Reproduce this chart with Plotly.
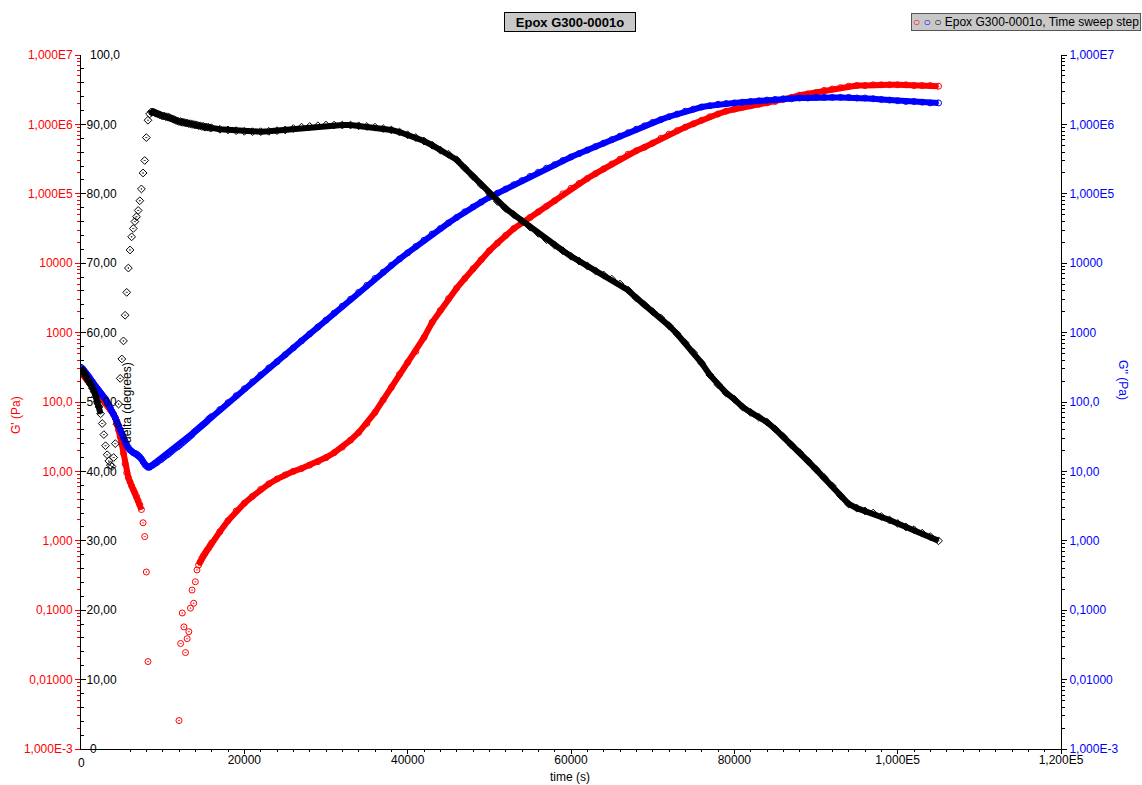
import plotly.graph_objects as go

# ---------------- data ----------------
time_s = [
    0, 200, 400, 600, 800, 1000, 1200, 1400, 1600, 1800,
    2000, 2200, 2400, 2600, 2800, 3000, 3200, 3400, 3600, 3800,
    4000, 4200, 4400, 4600, 4800, 5000, 5200, 5400, 5600, 5800,
    6000, 6200, 6400, 6600, 6800, 7000, 7200, 7400, 7600, 7800,
    8000, 8200, 8400, 8600, 8800, 9000, 9200, 9400, 9600, 9800,
    10000, 10200, 10400, 10600, 10800, 11000, 11200, 11400, 11600, 11800,
    12000, 12200, 12400, 12600, 12800, 13000, 13200, 13400, 13600, 13800,
    14000, 14200, 14400, 14600, 14800, 15000, 15200, 15400, 15600, 15800,
    16000,
    17000, 18000, 19000, 20000, 21000, 22000, 23000, 24000, 25000, 26000,
    27000, 28000, 29000, 30000, 31000, 32000, 33000, 34000, 35000, 36000,
    37000, 38000, 39000, 40000, 41000, 42000, 43000, 44000, 45000, 46000,
    47000, 48000, 49000, 50000, 51000, 52000, 53000, 54000, 55000, 56000,
    57000, 58000, 59000, 60000, 61000, 62000, 63000, 64000, 65000, 66000,
    67000, 68000, 69000, 70000, 71000, 72000, 73000, 74000, 75000, 76000,
    77000, 78000, 79000, 80000, 81000, 82000, 83000, 84000, 85000, 86000,
    87000, 88000, 89000, 90000, 91000, 92000, 93000, 94000, 95000, 96000,
    97000, 98000, 99000, 100000, 101000, 102000, 103000, 104000, 105000,
]

g_storage_pa = [  # G' (red, left log axis)
    2.69e2, 2.51e2, 2.34e2, 2.19e2, 2.04e2, 1.91e2, 1.78e2, 1.66e2, 1.55e2, 1.45e2,
    1.35e2, 1.29e2, 1.23e2, 1.15e2, 1.07e2, 1.00e2, 9.33e1, 8.51e1, 7.76e1, 7.24e1,
    6.61e1, 5.89e1, 5.01e1, 3.98e1, 3.16e1, 2.45e1, 1.82e1, 1.29e1, 9.55e0, 8.13e0,
    7.08e0, 6.17e0, 5.50e0, 4.90e0, 4.37e0, 3.80e0, 3.31e0, 2.82e0, 1.82e0, 1.15e0,
    3.55e-1, 1.82e-2, None, None, None, None, None, None, None, None,
    None, None, None, None, None, None, None, None, None, None,
    2.57e-3, 3.31e-2, 9.12e-2, 5.75e-2, 2.45e-2, 3.89e-2, 4.90e-2, 1.07e-1, 1.95e-1, 1.26e-1,
    2.57e-1, 3.80e-1, 4.47e-1, 5.01e-1, 5.62e-1, 6.17e-1, 6.61e-1, 7.24e-1, 7.76e-1, 8.51e-1,
    9.33e-1,
    1.35e0, 1.95e0, 2.69e0, 3.47e0, 4.37e0, 5.50e0, 6.61e0, 7.76e0, 8.91e0, 1.00e1,
    1.10e1, 1.23e1, 1.38e1, 1.58e1, 1.86e1, 2.24e1, 2.82e1, 3.63e1, 4.90e1, 7.08e1,
    1.07e2, 1.62e2, 2.51e2, 3.72e2, 5.37e2, 8.51e2, 1.41e3, 2.09e3, 3.09e3, 4.37e3,
    6.03e3, 8.32e3, 1.12e4, 1.51e4, 1.95e4, 2.51e4, 3.16e4, 3.80e4, 4.57e4, 5.50e4,
    6.61e4, 7.94e4, 1.00e5, 1.20e5, 1.41e5, 1.66e5, 1.95e5, 2.29e5, 2.69e5, 3.16e5,
    3.72e5, 4.17e5, 4.68e5, 5.37e5, 6.31e5, 7.24e5, 8.13e5, 9.12e5, 1.02e6, 1.15e6,
    1.29e6, 1.41e6, 1.55e6, 1.66e6, 1.78e6, 1.86e6, 1.95e6, 2.04e6, 2.14e6, 2.29e6,
    2.45e6, 2.63e6, 2.75e6, 2.88e6, 3.09e6, 3.24e6, 3.39e6, 3.55e6, 3.63e6, 3.63e6,
    3.72e6, 3.72e6, 3.72e6, 3.72e6, 3.72e6, 3.63e6, 3.63e6, 3.63e6, 3.55e6,
]

g_loss_pa = [  # G'' (blue, right log axis)
    3.16e2, 3.02e2, 2.82e2, 2.63e2, 2.45e2, 2.29e2, 2.09e2, 1.95e2, 1.78e2, 1.66e2,
    1.55e2, 1.45e2, 1.35e2, 1.26e2, 1.17e2, 1.10e2, 1.00e2, 9.12e1, 8.13e1, 7.24e1,
    6.61e1, 5.89e1, 5.25e1, 4.57e1, 3.98e1, 3.47e1, 3.02e1, 2.63e1, 2.34e1, 2.19e1,
    2.04e1, 1.95e1, 1.86e1, 1.82e1, 1.78e1, 1.70e1, 1.62e1, 1.51e1, 1.38e1, 1.26e1,
    1.20e1, 1.15e1, 1.15e1, 1.20e1, 1.23e1, 1.29e1, 1.32e1, 1.38e1, 1.45e1, 1.48e1,
    1.55e1, 1.62e1, 1.70e1, 1.74e1, 1.82e1, 1.91e1, 2.00e1, 2.09e1, 2.19e1, 2.24e1,
    2.34e1, 2.45e1, 2.57e1, 2.69e1, 2.82e1, 2.95e1, 3.09e1, 3.24e1, 3.39e1, 3.63e1,
    3.80e1, 3.98e1, 4.17e1, 4.37e1, 4.57e1, 4.79e1, 5.01e1, 5.25e1, 5.62e1, 5.89e1,
    6.17e1,
    7.76e1, 9.77e1, 1.23e2, 1.55e2, 1.95e2, 2.45e2, 3.09e2, 3.80e2, 4.79e2, 6.03e2,
    7.59e2, 9.55e2, 1.20e3, 1.51e3, 1.91e3, 2.40e3, 3.02e3, 3.80e3, 4.79e3, 6.03e3,
    7.41e3, 9.33e3, 1.15e4, 1.41e4, 1.74e4, 2.14e4, 2.63e4, 3.16e4, 3.80e4, 4.57e4,
    5.50e4, 6.46e4, 7.59e4, 8.91e4, 1.02e5, 1.17e5, 1.35e5, 1.55e5, 1.78e5, 2.04e5,
    2.34e5, 2.63e5, 3.02e5, 3.39e5, 3.80e5, 4.27e5, 4.79e5, 5.37e5, 6.03e5, 6.76e5,
    7.59e5, 8.51e5, 9.55e5, 1.07e6, 1.17e6, 1.29e6, 1.41e6, 1.55e6, 1.66e6, 1.78e6,
    1.86e6, 1.95e6, 2.00e6, 2.04e6, 2.09e6, 2.14e6, 2.19e6, 2.24e6, 2.29e6, 2.34e6,
    2.34e6, 2.40e6, 2.40e6, 2.45e6, 2.45e6, 2.45e6, 2.45e6, 2.45e6, 2.40e6, 2.40e6,
    2.34e6, 2.29e6, 2.24e6, 2.19e6, 2.14e6, 2.14e6, 2.09e6, 2.04e6, 2.04e6,
]

delta_deg = [  # delta (black, left linear axis)
    54.8, 54.5, 54.1, 53.7, 53.3, 52.9, 52.5, 52.0, 51.5, 50.8,
    50.0, 49.3, 48.3, 46.9, 45.3, 43.7, 42.4, 41.5, 40.9, 40.7,
    42.0, 44.0, 46.8, 49.7, 53.4, 56.2, 58.8, 62.5, 65.8, 69.3,
    71.9, 73.8, 75.0, 76.0, 76.7, 77.6, 79.0, 80.7, 83.0, 84.8,
    88.1, 90.6, 91.5, 91.8, 91.8, 91.7, 91.6, 91.5, 91.4, 91.3,
    91.2, 91.2, 91.1, 91.1, 91.0, 90.9, 90.8, 90.7, 90.6, 90.5,
    90.4, 90.4, 90.3, 90.3, 90.2, 90.2, 90.1, 90.1, 90.0, 90.0,
    89.9, 89.9, 89.8, 89.8, 89.7, 89.7, 89.6, 89.6, 89.6, 89.5,
    89.5,
    89.3, 89.2, 89.1, 89.0, 88.95, 88.95, 89.0, 89.1, 89.2, 89.4,
    89.6, 89.7, 89.8, 89.9, 89.9, 89.9, 89.9, 89.8, 89.7, 89.6,
    89.4, 89.2, 88.9, 88.5, 88.1, 87.6, 87.0, 86.3, 85.7, 84.9,
    83.7, 82.5, 81.3, 80.1, 78.9, 77.9, 77.0, 76.1, 75.2, 74.3,
    73.4, 72.6, 71.8, 71.0, 70.3, 69.6, 68.9, 68.3, 67.7, 67.0,
    66.1, 65.0, 64.0, 63.0, 62.1, 61.0, 59.8, 58.5, 57.1, 55.6,
    53.9, 52.5, 51.3, 50.4, 49.3, 48.5, 47.8, 47.1, 46.1, 45.0,
    43.8, 42.7, 41.5, 40.3, 39.1, 37.9, 36.5, 35.3, 34.7, 34.3,
    34.0, 33.5, 33.0, 32.5, 32.0, 31.6, 31.1, 30.6, 30.0,
]

x_tickvals = [0, 20000, 40000, 60000, 80000, 100000, 120000]
x_ticktext = ["0", "20000", "40000", "60000", "80000", "1,000E5", "1,200E5"]
g_tickvals = [1e-3, 1e-2, 1e-1, 1, 10, 100, 1e3, 1e4, 1e5, 1e6, 1e7]
g_ticktext = ["1,000E-3", "0,01000", "0,1000", "1,000", "10,00", "100,0",
              "1000", "10000", "1,000E5", "1,000E6", "1,000E7"]
d_tickvals = [0, 10, 20, 30, 40, 50, 60, 70, 80, 90, 100]
d_ticktext = ["0", "10,00", "20,00", "30,00", "40,00", "50,00",
              "60,00", "70,00", "80,00", "90,00", "100,0"]

# ---------------- styling ----------------
FONT = "Liberation Sans, Arial, sans-serif"
RED, BLUE, BLACK = "#ff0000", "#0000ff", "#000000"
log_minor = [m * 10.0 ** e for e in range(-3, 7) for m in range(2, 10)]

# dense stretches are drawn as a thick band (markers overlap in the original)
def band(values, keep):
    return [v if k else None for v, k in zip(values, keep)]

red_keep = [t <= 7400 or t >= 14400 for t in time_s]
blue_keep = [True for t in time_s]
black_keep = [t <= 2400 or t >= 8400 for t in time_s]

fig = go.Figure()
fig.add_trace(go.Scatter(x=time_s, y=band(g_storage_pa, red_keep), mode="lines",
                         line=dict(color=RED, width=6), yaxis="y", hoverinfo="skip",
                         showlegend=False))
fig.add_trace(go.Scatter(x=time_s, y=g_storage_pa, mode="markers", yaxis="y",
                         marker=dict(symbol="circle-open-dot", size=6, color=RED,
                                     line=dict(width=1)), showlegend=False))
fig.add_trace(go.Scatter(x=time_s, y=band(g_loss_pa, blue_keep), mode="lines",
                         line=dict(color=BLUE, width=6), yaxis="y2", hoverinfo="skip",
                         showlegend=False))
fig.add_trace(go.Scatter(x=time_s, y=g_loss_pa, mode="markers", yaxis="y2",
                         marker=dict(symbol="circle-open-dot", size=6, color=BLUE,
                                     line=dict(width=1)), showlegend=False))
fig.add_trace(go.Scatter(x=time_s, y=band(delta_deg, black_keep), mode="lines",
                         line=dict(color=BLACK, width=6), yaxis="y3", hoverinfo="skip",
                         showlegend=False))
fig.add_trace(go.Scatter(x=time_s, y=delta_deg, mode="markers", yaxis="y3",
                         marker=dict(symbol="diamond-open-dot", size=6, color=BLACK,
                                     line=dict(width=1)), showlegend=False))

fig.update_layout(
    width=1142, height=785,
    margin=dict(l=81, r=81, t=55, b=36, autoexpand=False),
    paper_bgcolor="white", plot_bgcolor="white",
    font=dict(family=FONT, size=12, color=BLACK),
    showlegend=False,
    xaxis=dict(range=[0, 120000], showline=True, linecolor=BLACK, linewidth=1,
               ticks="outside", ticklen=4, tickcolor=BLACK, tickmode="array",
               tickvals=x_tickvals, ticktext=x_ticktext, showgrid=False, zeroline=False,
               tickfont=dict(size=12, color=BLACK), automargin=False,
               ticklabelstandoff=-4,
               minor=dict(ticks="outside", ticklen=2, tickcolor=BLACK, dtick=2000,
                          showgrid=False)),
    yaxis=dict(type="log", range=[-3, 7], side="left", showline=True, linecolor=BLACK,
               linewidth=1, ticks="outside", ticklen=5, tickcolor=RED, tickmode="array",
               tickvals=g_tickvals, ticktext=g_ticktext, tickfont=dict(size=12, color=RED),
               showgrid=False, zeroline=False, automargin=False,
               minor=dict(tickmode="array", tickvals=log_minor, ticks="outside", ticklen=3,
                          tickcolor=RED, showgrid=False)),
    yaxis2=dict(type="log", range=[-3, 7], overlaying="y", side="right", anchor="x",
                showline=True, linecolor=BLACK, linewidth=1, ticks="outside", ticklen=5,
                tickcolor=BLACK, tickmode="array", tickvals=g_tickvals, ticktext=g_ticktext,
                tickfont=dict(size=12, color=BLUE), showgrid=False, zeroline=False,
                automargin=False,
                minor=dict(tickmode="array", tickvals=log_minor, ticks="outside", ticklen=3,
                           tickcolor=BLACK, showgrid=False)),
    yaxis3=dict(range=[0, 100], overlaying="y", side="left", anchor="x", showline=False,
                ticks="inside", ticklabelposition="inside", ticklen=5, tickcolor=BLACK,
                tickmode="array", tickvals=d_tickvals, ticktext=d_ticktext,
                tickfont=dict(size=12, color=BLACK), showgrid=False, zeroline=False,
                automargin=False,
                minor=dict(ticks="inside", ticklen=3, tickcolor=BLACK, dtick=2,
                           showgrid=False)),
)

def px_x(px):
    return (px - 81) / 980.0

def px_y(py):
    return (749 - py) / 694.0

annotations = [
    dict(x=px_x(570), y=px_y(22), text="<b>Epox G300-0001o</b>", showarrow=False,
         font=dict(size=13, color=BLACK), bgcolor="#c8c8c8", bordercolor=BLACK,
         borderwidth=1, borderpad=2, width=126, height=14),
    dict(x=px_x(911), y=px_y(22), xanchor="left", align="left",
         text=("<span style='color:#ff0000'>○</span> <span style='color:#0000ff'>○</span> "
               "<span style='color:#000000'>○</span> Epox G300-0001o, Time sweep step"),
         showarrow=False, font=dict(size=12, color=BLACK), bgcolor="#c8c8c8",
         bordercolor="#555555", borderwidth=1, borderpad=1),
    dict(x=px_x(16), y=px_y(415), text="G' (Pa)", textangle=-90, showarrow=False,
         font=dict(size=12, color=RED)),
    dict(x=px_x(127), y=px_y(403), text="delta (degrees)", textangle=-90, showarrow=False,
         font=dict(size=12, color=BLACK)),
    dict(x=px_x(1123), y=px_y(380), text="G'' (Pa)", textangle=90, showarrow=False,
         font=dict(size=12, color=BLUE)),
    dict(x=px_x(570), y=px_y(777), text="time (s)", showarrow=False,
         font=dict(size=12, color=BLACK)),
    # end labels that plotly drops at the plot edges
    dict(x=px_x(81), y=px_y(763), text=x_ticktext[0], showarrow=False,
         font=dict(size=12, color=BLACK)),
    dict(x=px_x(88), y=px_y(55), xanchor="left", text=d_ticktext[-1], showarrow=False,
         font=dict(size=12, color=BLACK)),
    dict(x=px_x(88), y=px_y(749), xanchor="left", text=d_ticktext[0], showarrow=False,
         font=dict(size=12, color=BLACK)),
]
for a in annotations:
    a.setdefault("xref", "paper")
    a.setdefault("yref", "paper")
    a.setdefault("xanchor", "center")
    a.setdefault("yanchor", "middle")
fig.update_layout(annotations=annotations)

fig.write_html("out.html")
